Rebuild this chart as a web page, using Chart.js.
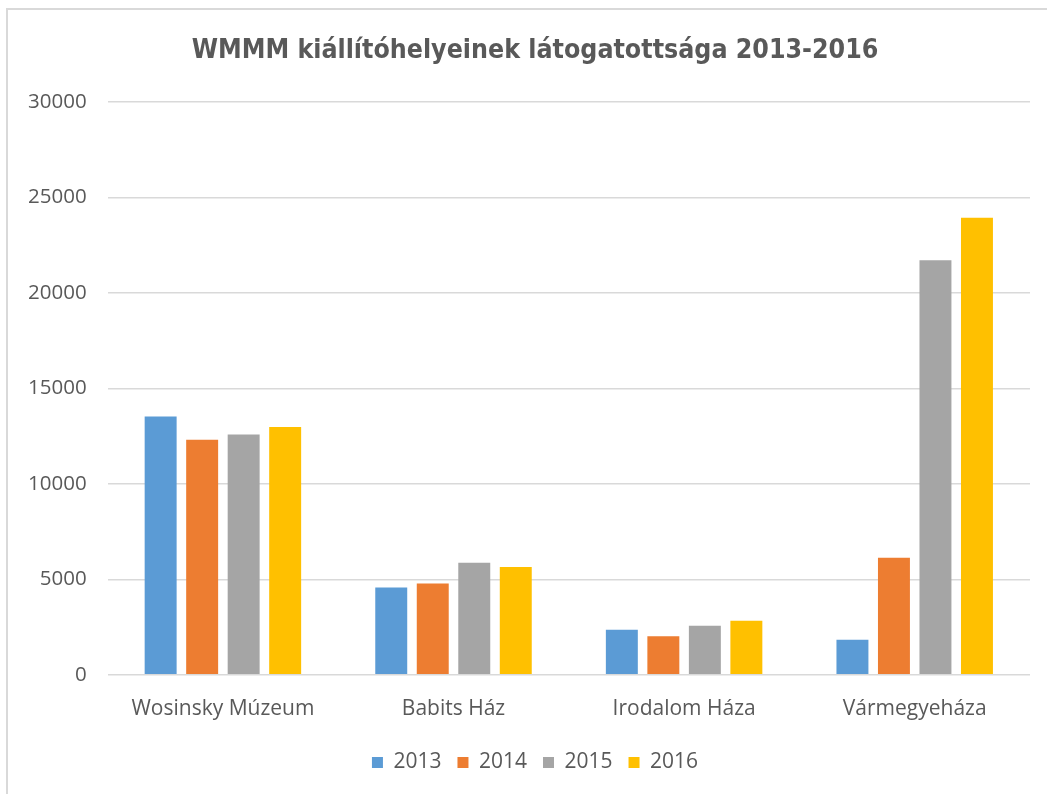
<!DOCTYPE html>
<html>
<head>
<meta charset="utf-8">
<script src="https://cdn.jsdelivr.net/npm/chart.js@4"></script>
<style>
  html, body { margin: 0; padding: 0; background: #fff; overflow: hidden; }
  .frame { position: absolute; left: 6px; top: 8px; width: 1047px; height: 800px;
           border-left: 2px solid #d9d9d9; border-top: 2px solid #d9d9d9; }
  canvas { position: absolute; left: 0; top: 0; }
</style>
</head>
<body>
<div class="frame"></div>
<canvas id="c" width="1047" height="794" style="width:1047px;height:794px"></canvas>
<script>
const categories = ['Wosinsky Múzeum', 'Babits Ház', 'Irodalom Háza', 'Vármegyeháza']
const years = ['2013', '2014', '2015', '2016']
const v2013 = [13520, 4570, 2360, 1830]
const v2014 = [12300, 4780, 2020, 6130]
const v2015 = [12580, 5860, 2570, 21700]
const v2016 = [12980, 5650, 2830, 23930]
const yTicks = [0, 5000, 10000, 15000, 20000, 25000, 30000]
const colors = ['#5b9bd5', '#ed7d31', '#a5a5a5', '#ffc000']

const series = [v2013, v2014, v2015, v2016]
const labelFont = { family: 'Open Sans', size: 21 }

// title and legend sit a bit right of the canvas centre in the original
const nudge = {
    id: 'nudge',
    afterLayout(chart) {
        for (const box of [chart.titleBlock, chart.legend]) {
            box.left += 16.5
            box.right += 16.5
        }
    }
}

new Chart(document.getElementById('c'), {
    type: 'bar',
    data: {
        labels: categories,
        datasets: series.map((d, i) => ({
            label: years[i],
            data: d,
            backgroundColor: colors[i],
            borderWidth: 0,
            categoryPercentage: 0.72,
            barPercentage: 0.77
        }))
    },
    plugins: [nudge],
    options: {
        responsive: false,
        animation: false,
        devicePixelRatio: 1,
        layout: { padding: { left: 7, right: 17, top: 20, bottom: 11 } },
        plugins: {
            title: {
                display: true,
                text: 'WMMM kiállítóhelyeinek látogatottsága 2013-2016',
                color: '#595959',
                font: { family: "'DejaVu Sans Condensed', 'Open Sans'", size: 26.5, weight: 'bold' },
                padding: { top: 15, bottom: 35 }
            },
            legend: {
                position: 'bottom',
                labels: {
                    color: '#595959',
                    font: labelFont,
                    boxWidth: 11, boxHeight: 11,
                    padding: 16
                }
            },
            tooltip: { enabled: false }
        },
        scales: {
            x: {
                grid: { display: false },
                border: { display: false },
                ticks: { color: '#595959', font: labelFont, padding: 14 }
            },
            y: {
                min: 0, max: 30000,
                afterBuildTicks: axis => { axis.ticks = yTicks.map(v => ({ value: v })) },
                grid: { color: '#d9d9d9', lineWidth: 1.5, drawTicks: false },
                border: { display: false },
                ticks: {
                    color: '#595959', font: { family: 'Open Sans', size: 20.5 }, padding: 21,
                    callback: v => String(v)
                }
            }
        }
    }
})
</script>
</body>
</html>
